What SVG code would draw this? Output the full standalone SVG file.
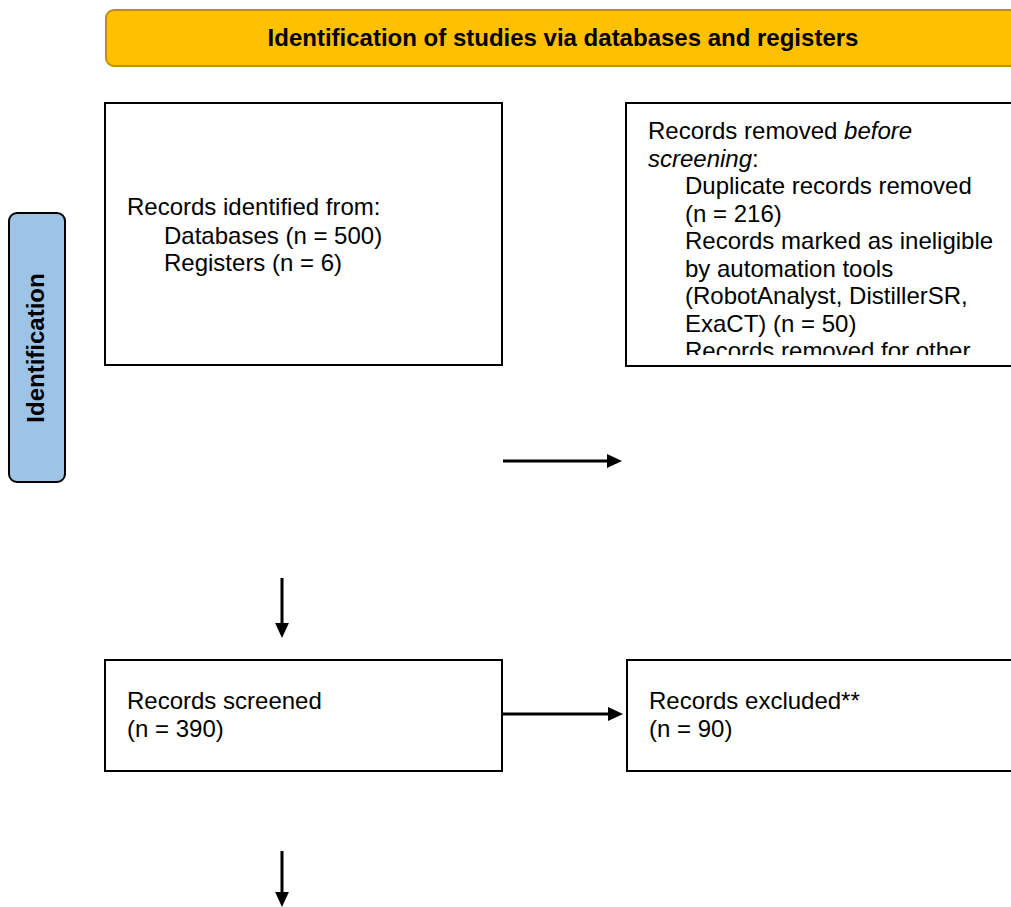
<svg xmlns="http://www.w3.org/2000/svg" width="1011" height="907" viewBox="0 0 1011 907">
<style>
.box{fill:#fff;stroke:#000;stroke-width:2}
.t{font-family:"Liberation Sans",Arial,sans-serif;font-size:24px;fill:#000}
.b{font-family:"Liberation Sans",Arial,sans-serif;font-size:24px;font-weight:bold;fill:#000}
.c{stroke:#000;stroke-width:3;fill:none;marker-end:url(#ah)}
</style>
<defs>
<marker id="ah" markerWidth="5" markerHeight="4.6" refX="0" refY="2.3" orient="auto" markerUnits="strokeWidth">
<path d="M0,0 L5,2.3 L0,4.6 Z" fill="#000"/>
</marker>
<clipPath id="clip2"><rect x="627" y="104" width="384" height="251"/></clipPath>
</defs>
<g id="header">
<rect x="106" y="10" width="920" height="56" rx="8" fill="#FFC000" stroke="#BF9000" stroke-width="2"/>
<text class="b" x="563" y="46" text-anchor="middle">Identification of studies via databases and registers</text>
</g>
<g id="side-identification">
<rect x="9" y="213" width="56" height="269" rx="8" fill="#9DC3E6" stroke="#000" stroke-width="2"/>
<text class="b" transform="translate(44,348) rotate(-90)" text-anchor="middle">Identification</text>
</g>
<g id="records-identified">
<rect class="box" x="105" y="103" width="397" height="262"/>
<text class="t" x="127" y="215">Records identified from:</text>
<text class="t" x="164" y="243.5">Databases (n = 500)</text>
<text class="t" x="164" y="271">Registers (n = 6)</text>
</g>
<g id="records-removed">
<rect class="box" x="626" y="103" width="400" height="263"/>
<g clip-path="url(#clip2)">
<text class="t" x="648" y="139">Records removed <tspan font-style="italic">before</tspan></text>
<text class="t" x="648" y="166.5"><tspan font-style="italic">screening</tspan>:</text>
<text class="t" x="685" y="194">Duplicate records removed</text>
<text class="t" x="685" y="221.5">(n = 216)</text>
<text class="t" x="685" y="249">Records marked as ineligible</text>
<text class="t" x="685" y="276.5">by automation tools</text>
<text class="t" x="685" y="304">(RobotAnalyst, DistillerSR,</text>
<text class="t" x="685" y="331.5">ExaCT) (n = 50)</text>
<text class="t" x="685" y="359">Records removed for other</text>
</g>
</g>
<g id="records-screened">
<rect class="box" x="105" y="660" width="397" height="111"/>
<text class="t" x="127" y="709">Records screened</text>
<text class="t" x="127" y="737">(n = 390)</text>
</g>
<g id="records-excluded">
<rect class="box" x="627" y="660" width="400" height="111"/>
<text class="t" x="649" y="709">Records excluded**</text>
<text class="t" x="649" y="737">(n = 90)</text>
</g>
<g id="connectors">
<line class="c" x1="503" y1="461" x2="607" y2="461"/>
<line class="c" x1="282" y1="578" x2="282" y2="623"/>
<line class="c" x1="502" y1="714" x2="608" y2="714"/>
<line class="c" x1="282" y1="851" x2="282" y2="892"/>
</g>
</svg>
